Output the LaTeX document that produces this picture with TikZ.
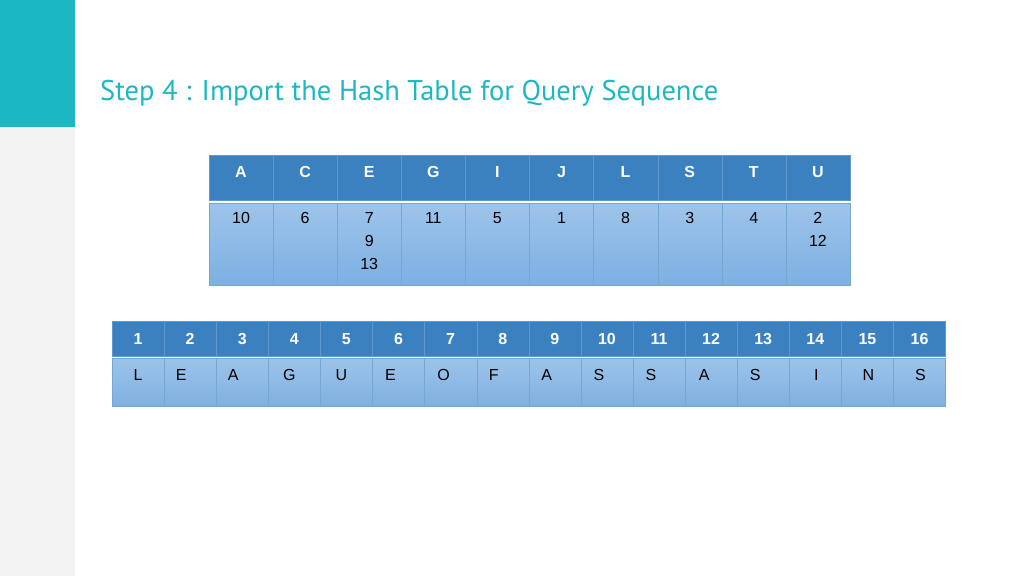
\documentclass[tikz,border=0pt]{standalone}
\usepackage{fontspec}
\setmainfont{Liberation Sans}
\newfontfamily\titlefont{PT Sans}
\definecolor{teal}{HTML}{1BB8C4}
\definecolor{headblue}{HTML}{3B80BF}
\definecolor{cellblue}{HTML}{7DB0E2}
\definecolor{sidegray}{HTML}{F3F3F3}
\begin{document}
\begin{tikzpicture}[
        x=1pt, y=-1pt,
        headcell/.style={rectangle, draw=headblue!80!white, fill=headblue, inner sep=0pt},
        bodycell/.style={rectangle, draw=headblue!70!white, top color=cellblue!75!white, bottom color=cellblue, inner sep=0pt},
        headtext/.style={text=white, font=\bfseries\fontsize{16}{18}\selectfont},
        val/.style={font=\fontsize{16}{23}\selectfont, align=center, anchor=north}
    ]
        \useasboundingbox (0,0) rectangle (1024,576);
        % Side band
        \fill[sidegray] (0,0) rectangle (75,576);
        \fill[teal] (0,0) rectangle (75,127);
        \node[anchor=base west, text=teal, font=\titlefont\fontsize{28.5}{32}\selectfont, inner sep=0pt] (title) at (100,100) {Step 4 : Import the Hash Table for Query Sequence};
        
        % Hash table
        \foreach \k/\h/\v in {0/A/10, 1/C/6, 2/E/{7\\9\\13}, 3/G/11, 4/I/5, 5/J/1, 6/L/8, 7/S/3, 8/T/4, 9/U/{2\\12}} {
            \pgfmathsetmacro{\xa}{209+64.1*\k}
            \draw[headcell] (\xa,155) rectangle ++(64.1,45);
            \node[headtext] (h\k) at (\xa+32,172) {\h};
            \draw[bodycell] (\xa,203) rectangle ++(64.1,82);
            \node[val] (v\k) at (\xa+32,209) {\v};
        }
        
        % Query sequence
        \foreach \k/\l/\dx in {0/L/0, 1/E/-9, 2/A/-9, 3/G/-5, 4/U/-5, 5/E/-8, 6/O/-7, 7/F/-9, 8/A/-8, 9/S/-8, 10/S/-8, 11/A/-7, 12/S/-8, 13/I/1, 14/N/1, 15/S/1} {
            \pgfmathsetmacro{\xb}{112+52.1*\k}
            \pgfmathtruncatemacro{\n}{\k+1}
            \draw[headcell] (\xb,321) rectangle ++(52.1,35);
            \node[headtext] (n\k) at (\xb+26,339) {\n};
            \draw[bodycell] (\xb,358) rectangle ++(52.1,48);
            \node[font=\fontsize{16}{18}\selectfont] (q\k) at (\xb+26+\dx,375) {\l};
        }
    \end{tikzpicture}
\end{document}
